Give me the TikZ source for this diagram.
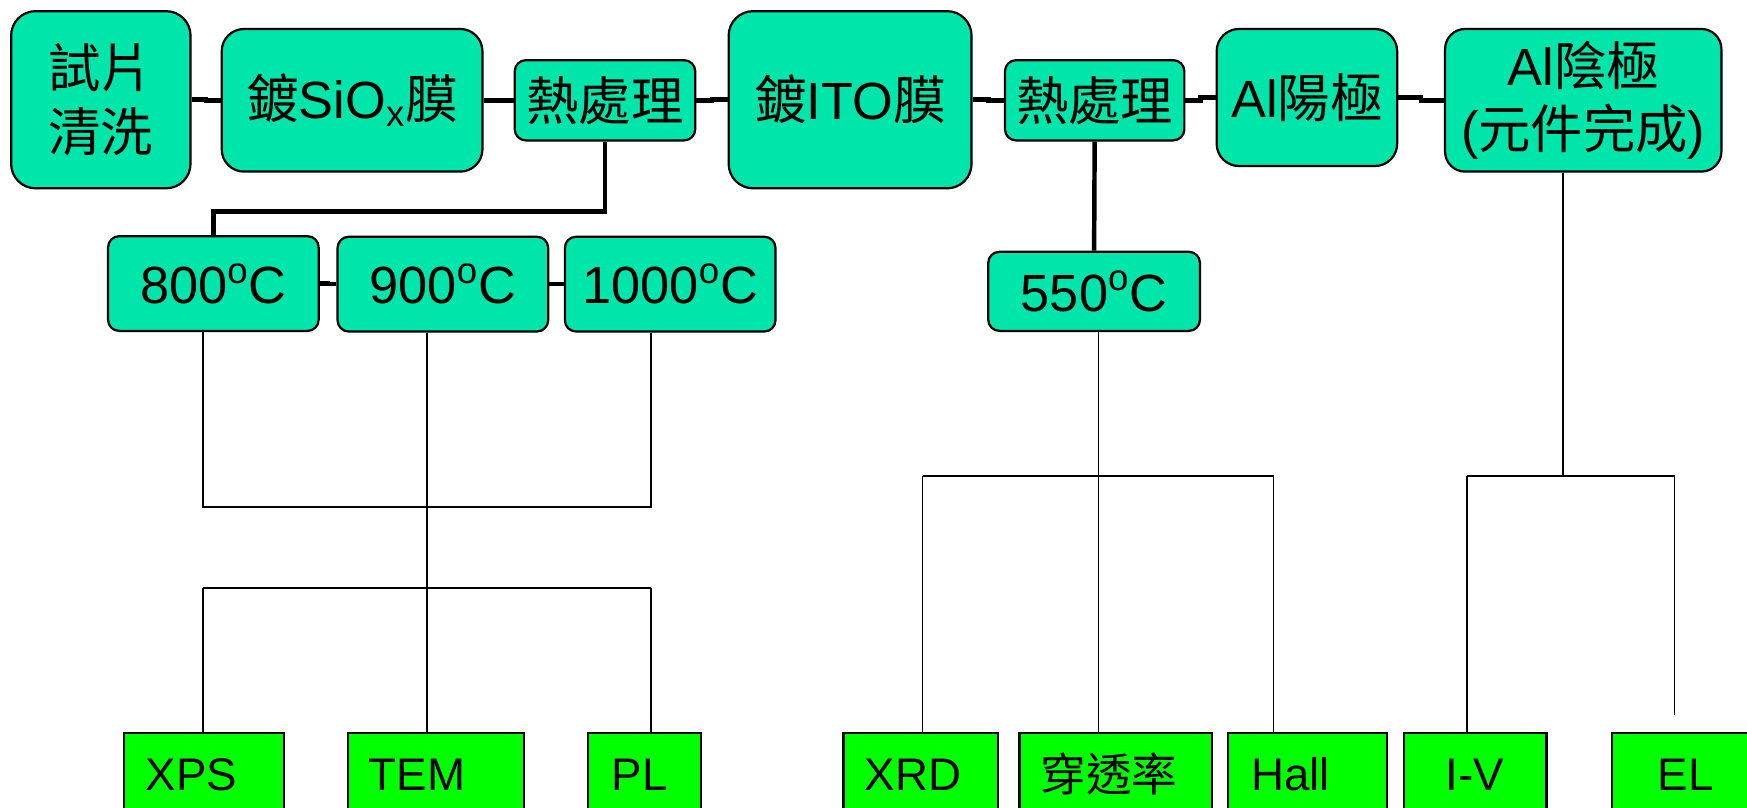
\documentclass[tikz,border=0pt]{standalone}
\usepackage{fontspec}
\setmainfont{Liberation Sans}
\newfontfamily\cjk{Noto Sans CJK TC}
\usetikzlibrary{calc}
\definecolor{tealbox}{RGB}{0,230,170}
\definecolor{grnbox}{RGB}{0,255,0}
\newcommand\myhconn[2]{\draw[thick conn] (#1.east) -| ($(#1.east)!0.5!(#2.west)$) |- (#2.west);}
\begin{document}
\begin{tikzpicture}[x=0.5pt,y=-0.5pt,
  topbox/.style={draw=black, line width=1pt, fill=tealbox, rounded corners=#1, inner sep=0pt, align=center, font=\fontsize{23.5}{28.5}\selectfont},
  topbox/.default=10pt,
  tempbox/.style={draw=black, line width=1pt, fill=tealbox, rounded corners=5pt, inner sep=0pt, font=\fontsize{23.5}{28}\selectfont, minimum height=42.5pt},
  testbox/.style={draw=black, line width=1pt, fill=grnbox, anchor=north west, minimum height=37pt, align=left, inner ysep=0pt, font=\fontsize{20.5}{24}\selectfont},
  thick conn/.style={line width=2pt},
  thin conn/.style={line width=0.8pt}
]
\useasboundingbox (0,0) rectangle (1568,725);
\clip (0,0) rectangle (1568,725);

% top row
\node[topbox=11pt, minimum width=80.5pt, minimum height=79.5pt] (clean) at (90.5,89.5) {{\cjk 試片}\\{\cjk 清洗}};
\node[topbox=10pt, minimum width=117pt, minimum height=64pt] (sio) at (316,90) {{\cjk 鍍}SiO\textsubscript{x}{\cjk 膜}};
\node[topbox=5pt, minimum width=81pt, minimum height=36pt] (ht1) at (543,90) {{\cjk 熱處理}};
\node[topbox=11pt, minimum width=109pt, minimum height=79.5pt] (ito) at (763,89.5) {{\cjk 鍍}ITO{\cjk 膜}};
\node[topbox=5pt, minimum width=80.5pt, minimum height=36pt] (ht2) at (982.5,90) {{\cjk 熱處理}};
\node[topbox=10pt, minimum width=81pt, minimum height=61.5pt] (anode) at (1173,87.5) {Al{\cjk 陽極}};
\node[topbox=9pt, minimum width=124pt, minimum height=64pt] (cathode) at (1421,90) {Al{\cjk 陰極}\\({\cjk 元件完成})};

% temperature row
\node[tempbox, minimum width=94.5pt] (t800) at (191.5,254.5) {800\textsuperscript{o}C};
\node[tempbox, minimum width=94.5pt] (t900) at (397.5,255) {900\textsuperscript{o}C};
\node[tempbox, minimum width=94.5pt] (t1000) at (601.5,255) {1000\textsuperscript{o}C};
\node[tempbox, minimum width=95pt, minimum height=35.5pt] (t550) at (982,261.5) {550\textsuperscript{o}C};

% bottom test row
\node[testbox, inner xsep=10pt, text width=52pt] (xps) at (110,657) {XPS};
\node[testbox, inner xsep=9.5pt, text width=60pt] (tem) at (311,657) {TEM};
\node[testbox, inner xsep=10.5pt, text width=29.5pt] (pl) at (527,657) {PL};
\node[testbox, inner xsep=9.5pt, text width=50.5pt] (xrd) at (756,657) {XRD};
\node[testbox, inner xsep=9.5pt, text width=67.5pt] (trans) at (914,657) {{\cjk 穿透率}};
\node[testbox, inner xsep=10.5pt, text width=50.5pt] (hall) at (1101,657) {Hall};
\node[testbox, inner xsep=0pt, minimum width=64pt] (iv) at (1259,657) {I-V};
\node[testbox, inner xsep=0pt, minimum width=66pt] (el) at (1446,657) {EL};

% thick connectors
\myhconn{clean}{sio}
\myhconn{sio}{ht1}
\myhconn{ht1}{ito}
\myhconn{ito}{ht2}
\myhconn{ht2}{anode}
\myhconn{anode}{cathode}
\myhconn{t800}{t900}
\myhconn{t900}{t1000}
\draw[thick conn] (ht1.south) -- ($(ht1.south)+(0,63)$) -| (t800.north);
\draw[thick conn] (ht2.south) -- (t550.north);

% thin connectors, left group
\coordinate (b800) at (182,455);
\coordinate (b1000) at (584,455);
\coordinate (b900) at (383,528);
\coordinate (c1) at (182,528);
\coordinate (c3) at (584,528);
\draw[thin conn] (t800.south -| b800) -- (b800) -- (b1000) -- (t1000.south -| b1000);
\draw[thin conn] (t900.south -| b900) -- (b900);
\draw[thin conn] (c1) -- (c3);
\draw[thin conn] (c1) -- (xps.north -| c1);
\draw[thin conn] (b900) -- (tem.north -| b900);
\draw[thin conn] (c3) -- (pl.north -| c3);

% thin connectors, middle group
\coordinate (r1) at (828,427);
\coordinate (r2) at (986,427);
\coordinate (r3) at (1143,427);
\draw[thin conn] (t550.south -| r2) -- (r2);
\draw[thin conn] (r1) -- (r3);
\draw[thin conn] (r1) -- (xrd.north -| r1);
\draw[thin conn] (r2) -- (trans.north -| r2);
\draw[thin conn] (r3) -- (hall.north -| r3);

% thin connectors, right group
\coordinate (s1) at (1317,427);
\coordinate (s2) at (1403,427);
\coordinate (s3) at (1503,427);
\coordinate (s4) at (1503,642);
\draw[thin conn] (cathode.south -| s2) -- (s2);
\draw[thin conn] (s1) -- (s3);
\draw[thin conn] (s1) -- (iv.north -| s1);
\draw[thin conn] (s3) -- (s4);
\end{tikzpicture}
\end{document}
